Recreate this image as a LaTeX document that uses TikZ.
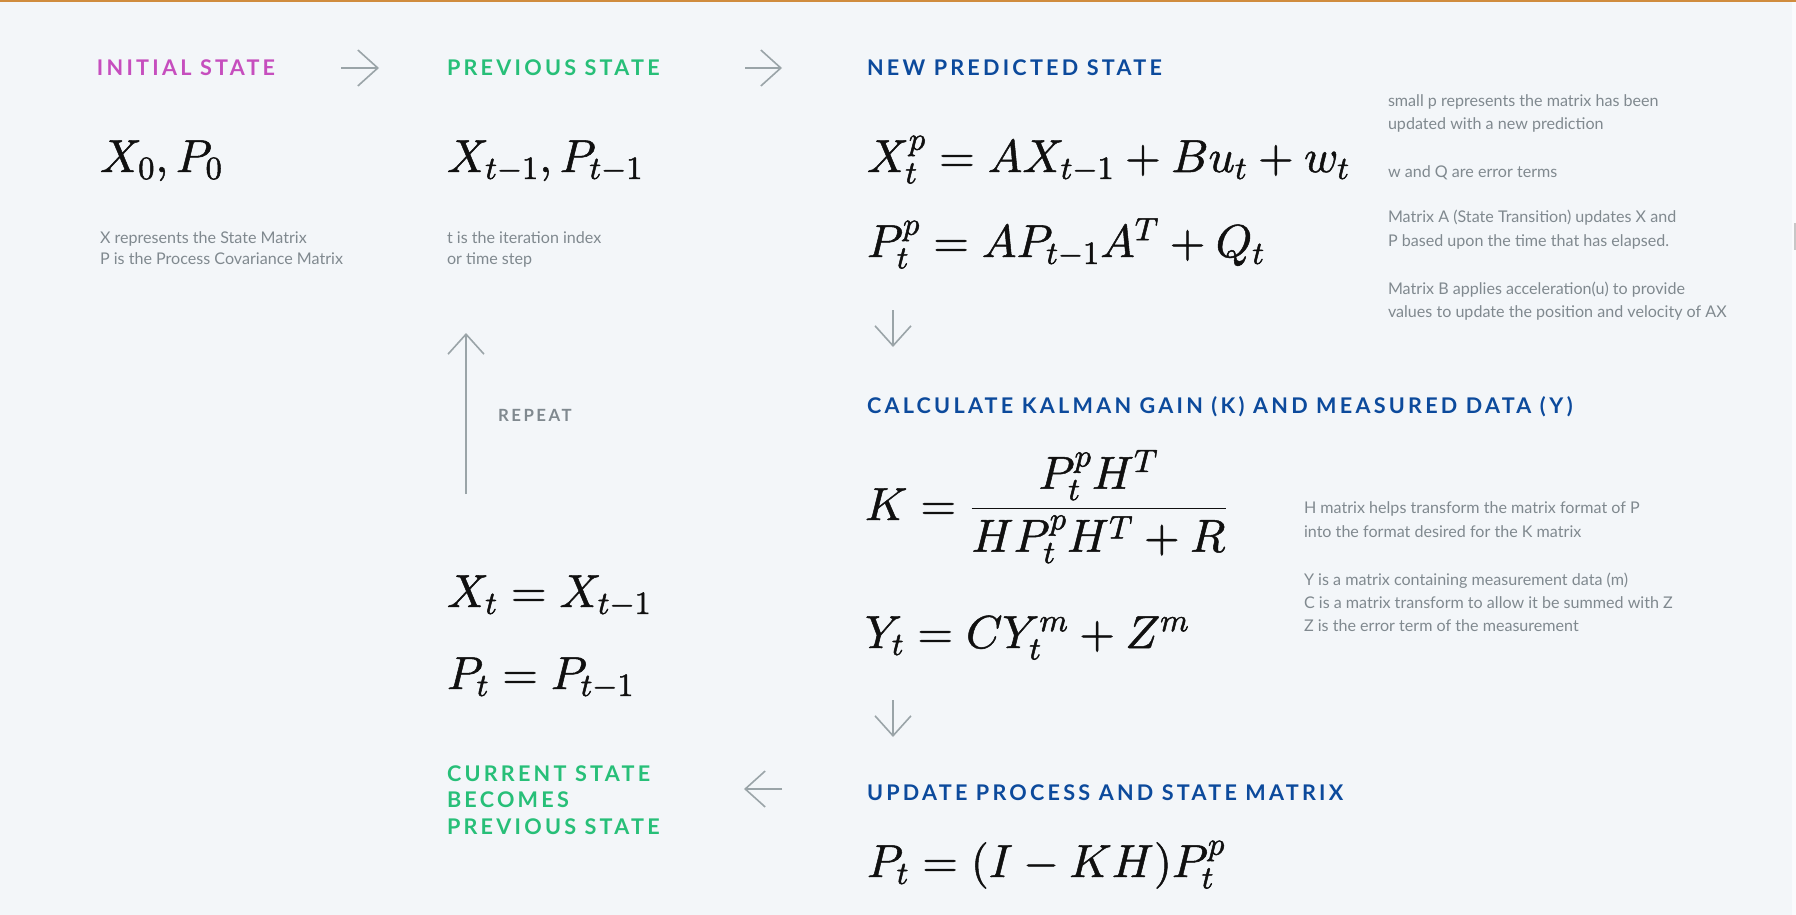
\documentclass[tikz,border=0pt]{standalone}
\usepackage[no-math]{fontspec}
\DeclareFontShape{OT1}{cmr}{m}{n}{<->cmr10}{}
\DeclareFontShape{OML}{cmm}{m}{it}{<->cmmi10}{\skewchar\font'177}
\DeclareFontShape{OMS}{cmsy}{m}{n}{<->cmsy10}{\skewchar\font'60}
\DeclareFontShape{OMX}{cmex}{m}{n}{<->cmex10}{}
\newfontfamily\notefont{Lato}
\newfontfamily\headfont{Lato}[LetterSpace=15]
\usetikzlibrary{arrows.meta}
\definecolor{bg}{HTML}{F3F6F9}
\definecolor{topline}{HTML}{D08C3E}
\definecolor{cmag}{HTML}{C64EBE}
\definecolor{cgreen}{HTML}{27BF78}
\definecolor{cblue}{HTML}{0C4A9C}
\definecolor{cgray}{HTML}{80898F}
\definecolor{carrow}{HTML}{9AA4A8}
\definecolor{cmath}{HTML}{101010}
\tikzset{
  every node/.style={inner sep=0pt, outer sep=0pt},
  head/.style={anchor=base west, font=\headfont\bfseries\fontsize{10.8}{13}\selectfont},
  repeatlbl/.style={anchor=base west, text=cgray, font=\headfont\bfseries\fontsize{8.4}{10}\selectfont},
  note/.style={anchor=base west, text=cgray, font=\notefont\fontsize{8.05}{11}\selectfont},
  eq/.style={anchor=base west, text=cmath, font=\fontsize{23.1}{28}\selectfont,
    execute at begin node={\special{pdf:literal direct 2 Tr 0.25 w}},
    execute at end node={\special{pdf:literal direct 0 Tr}}},
  flow/.style={draw=carrow, line width=0.8pt, -{Straight Barb[length=10pt,width=18pt]}},
}
\begin{document}
\begin{tikzpicture}[x=0.5pt, y=-0.5pt]
\fill[bg] (0,0) rectangle (1796,915);
\useasboundingbox (0,0) rectangle (1796,915);
\fill[topline] (0,0) rectangle (1796,2.5);
\fill[white!60!bg] (1792,2.5) rectangle (1796,915);
\fill[black!22] (1794,223) rectangle (1796,250);

% headings
\node[head, text=cmag]   (h1) at (97,76)  {INITIAL STATE};
\node[head, text=cgreen] (h2) at (447,76) {PREVIOUS STATE};
\node[head, text=cblue]  (h3) at (867,76) {NEW PREDICTED STATE};
\node[head, text=cblue]  (h4) at (867,413) {CALCULATE KALMAN GAIN (K) AND MEASURED DATA (Y)};
\node[head, text=cblue]  (h5) at (867,800) {UPDATE PROCESS AND STATE MATRIX};
\node[head, text=cgreen] (h6a) at (447,781) {CURRENT STATE};
\node[head, text=cgreen] (h6b) at (447,807) {BECOMES};
\node[head, text=cgreen] (h6c) at (447,834) {PREVIOUS STATE};
\node[repeatlbl] (rep) at (498,421) {REPEAT};

% equations
\node[eq] (e1) at (100,172) {$X_0, P_0$};
\node[eq] (e2) at (447,172) {$X_{t-1}, P_{t-1}$};
\node[eq] (e3) at (867,172) {$X_t^p = AX_{t-1} + Bu_t + w_t$};
\node[eq] (e4) at (867,257) {$P_t^p = AP_{t-1}A^T + Q_t$};
\node[eq] (e5) at (865,520) {$K = \displaystyle\frac{P_t^pH^T}{HP_t^pH^T+R}$};
\node[eq] (e6) at (865,648) {$Y_t = CY_t^m + Z^m$};
\node[eq] (e7) at (447,607) {$X_t = X_{t-1}$};
\node[eq] (e8) at (447,689) {$P_t = P_{t-1}$};
\node[eq] (e9) at (867,877) {$P_t = (I-KH)P_t^p$};

% notes
\node[note] (n1a) at (100,243) {X represents the State Matrix};
\node[note] (n1b) at (100,264) {P is the Process Covariance Matrix};
\node[note] (n2a) at (447,243) {t is the iteration index};
\node[note] (n2b) at (447,264) {or time step};
\node[note] (r1) at (1388,107) {small p represents the matrix has been};
\node[note] (r2) at (1388,130) {updated with a new prediction};
\node[note] (r3) at (1388,177) {w and Q are error terms};
\node[note] (r4) at (1388,223) {Matrix A (State Transition) updates X and};
\node[note] (r5) at (1388,247) {P based upon the time that has elapsed.};
\node[note] (r6) at (1388,294) {Matrix B applies acceleration(u) to provide};
\node[note] (r7) at (1388,317) {values to update the position and velocity of AX};
\node[note] (k1) at (1304,513) {H matrix helps transform the matrix format of P};
\node[note] (k2) at (1304,537) {into the format desired for the K matrix};
\node[note] (k3) at (1304,585) {Y is a matrix containing measurement data (m)};
\node[note] (k4) at (1304,608) {C is a matrix transform to allow it be summed with Z};
\node[note] (k5) at (1304,631) {Z is the error term of the measurement};

% arrows
\coordinate (a1s) at (341,68);  \coordinate (a1e) at (379,68);
\coordinate (a2s) at (745,68);  \coordinate (a2e) at (782,68);
\coordinate (d1s) at (893,310); \coordinate (d1e) at (893,347);
\coordinate (d2s) at (893,700); \coordinate (d2e) at (893,737);
\coordinate (l1s) at (782,789); \coordinate (l1e) at (744,789);
\coordinate (u1s) at (466,494); \coordinate (u1e) at (466,333);
\draw[flow] (a1s) -- (a1e);
\draw[flow] (a2s) -- (a2e);
\draw[flow] (d1s) -- (d1e);
\draw[flow] (d2s) -- (d2e);
\draw[flow] (l1s) -- (l1e);
\draw[flow] (u1s) -- (u1e);
\end{tikzpicture}
\end{document}
